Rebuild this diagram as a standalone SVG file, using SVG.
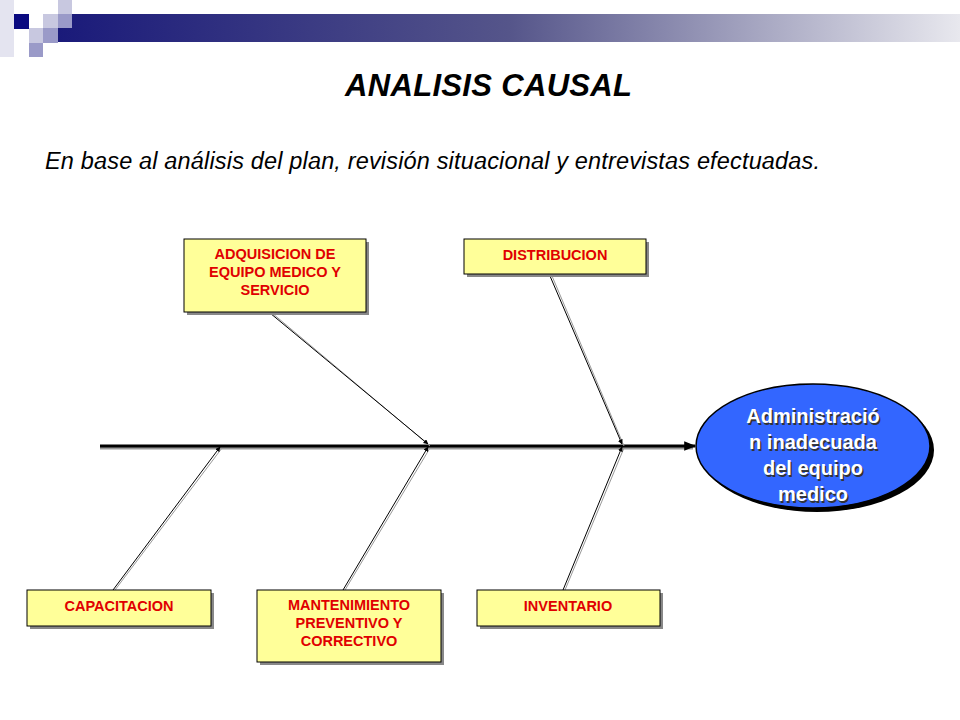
<svg xmlns="http://www.w3.org/2000/svg" width="960" height="720" viewBox="0 0 960 720">
<defs>
<linearGradient id="bar" x1="0" x2="1" y1="0" y2="0"><stop offset="0" stop-color="#1a1a7a"/><stop offset="0.5" stop-color="#55558a"/><stop offset="1" stop-color="#e8e8ee"/></linearGradient>
<marker id="ah" viewBox="0 0 10 10" refX="9" refY="5" markerWidth="5" markerHeight="5" orient="auto"><path d="M0,0 L10,5 L0,10 z" fill="#000"/></marker>
<marker id="ahs" viewBox="0 0 10 10" refX="9" refY="5" markerWidth="4" markerHeight="4" orient="auto"><path d="M0,1 L10,5 L0,9 z" fill="#000"/></marker>
<style>
.box{fill:#ffff99;stroke:#000;stroke-width:1}
.sh{fill:#888}
.bt{font-family:"Liberation Sans",Arial,sans-serif;font-weight:bold;font-size:14.5px;fill:#e00000;text-anchor:middle}
.bone{stroke:#000;stroke-width:1;fill:none}
.boneS{stroke:#999;stroke-width:1;fill:none}
</style>
</defs>
<rect width="960" height="720" fill="#fff"/>
<g id="header">
<rect x="58" y="14" width="902" height="28" fill="url(#bar)"/>
<rect x="0" y="0" width="14" height="57" fill="#e4e4f0"/>
<rect x="14" y="14" width="15" height="15" fill="#0a0a80"/>
<rect x="43" y="14" width="15" height="15" fill="#c8c8e0"/>
<rect x="58" y="0" width="14" height="14" fill="#c8c8e0"/>
<rect x="58" y="14" width="14" height="14" fill="#9a9ac8"/>
<rect x="29" y="28" width="14" height="15" fill="#c8c8e0"/>
<rect x="43" y="28" width="15" height="15" fill="#9a9ac8"/>
<rect x="29" y="43" width="14" height="14" fill="#9a9ac8"/>
</g>
<text x="345" y="96" textLength="287" font-family="Liberation Sans,Arial,sans-serif" font-size="31" font-weight="bold" font-style="italic">ANALISIS CAUSAL</text>
<text x="45" y="169" textLength="775" font-family="Liberation Sans,Arial,sans-serif" font-size="23.5" font-style="italic">En base al análisis del plan, revisión situacional y entrevistas efectuadas.</text>
<g id="connectors">
<line x1="100" y1="448" x2="693" y2="448" stroke="#999" stroke-width="3"/>
<line x1="100" y1="446" x2="695" y2="446" stroke="#000" stroke-width="3" marker-end="url(#ahs)"/>
<line class="boneS" x1="272" y1="313" x2="430" y2="446"/>
<line class="bone" x1="270" y1="313" x2="428" y2="444" marker-end="url(#ah)"/>
<line class="boneS" x1="552" y1="276" x2="624" y2="446"/>
<line class="bone" x1="550" y1="276" x2="622" y2="444" marker-end="url(#ah)"/>
<line class="boneS" x1="115" y1="590" x2="222" y2="448"/>
<line class="bone" x1="113" y1="590" x2="220" y2="447" marker-end="url(#ah)"/>
<line class="boneS" x1="345" y1="590" x2="430" y2="448"/>
<line class="bone" x1="343" y1="590" x2="428" y2="447" marker-end="url(#ah)"/>
<line class="boneS" x1="565" y1="590" x2="624" y2="448"/>
<line class="bone" x1="563" y1="590" x2="622" y2="447" marker-end="url(#ah)"/>
</g>
<g id="adq"><rect class="sh" x="187" y="242" width="182" height="73"/><rect class="box" x="184" y="239" width="182" height="73"/>
<text class="bt" x="275" y="259">ADQUISICION DE</text><text class="bt" x="275" y="277">EQUIPO MEDICO Y</text><text class="bt" x="275" y="295">SERVICIO</text></g>
<g id="dist"><rect class="sh" x="467" y="242" width="182" height="35"/><rect class="box" x="464" y="239" width="182" height="35"/>
<text class="bt" x="555" y="260">DISTRIBUCION</text></g>
<g id="cap"><rect class="sh" x="30" y="593" width="184" height="36"/><rect class="box" x="27" y="590" width="184" height="36"/>
<text class="bt" x="119" y="611">CAPACITACION</text></g>
<g id="mant"><rect class="sh" x="260" y="593" width="184" height="72"/><rect class="box" x="257" y="590" width="184" height="72"/>
<text class="bt" x="349" y="610">MANTENIMIENTO</text><text class="bt" x="349" y="628">PREVENTIVO Y</text><text class="bt" x="349" y="646">CORRECTIVO</text></g>
<g id="inv"><rect class="sh" x="480" y="593" width="183" height="36"/><rect class="box" x="477" y="590" width="183" height="36"/>
<text class="bt" x="568" y="611">INVENTARIO</text></g>
<g id="effect">
<ellipse cx="817" cy="450" rx="117" ry="62" fill="#000"/>
<ellipse cx="813" cy="446" rx="117" ry="62" fill="#3366ff" stroke="#000" stroke-width="1.5"/>
<g font-family="Liberation Sans,Arial,sans-serif" font-weight="bold" font-size="20" text-anchor="middle">
<g fill="#333" transform="translate(1.5,1.5)"><text x="813" y="423">Administració</text><text x="813" y="449">n inadecuada</text><text x="813" y="475">del equipo</text><text x="813" y="501">medico</text></g>
<g fill="#fff"><text x="813" y="423">Administració</text><text x="813" y="449">n inadecuada</text><text x="813" y="475">del equipo</text><text x="813" y="501">medico</text></g>
</g></g>
</svg>
